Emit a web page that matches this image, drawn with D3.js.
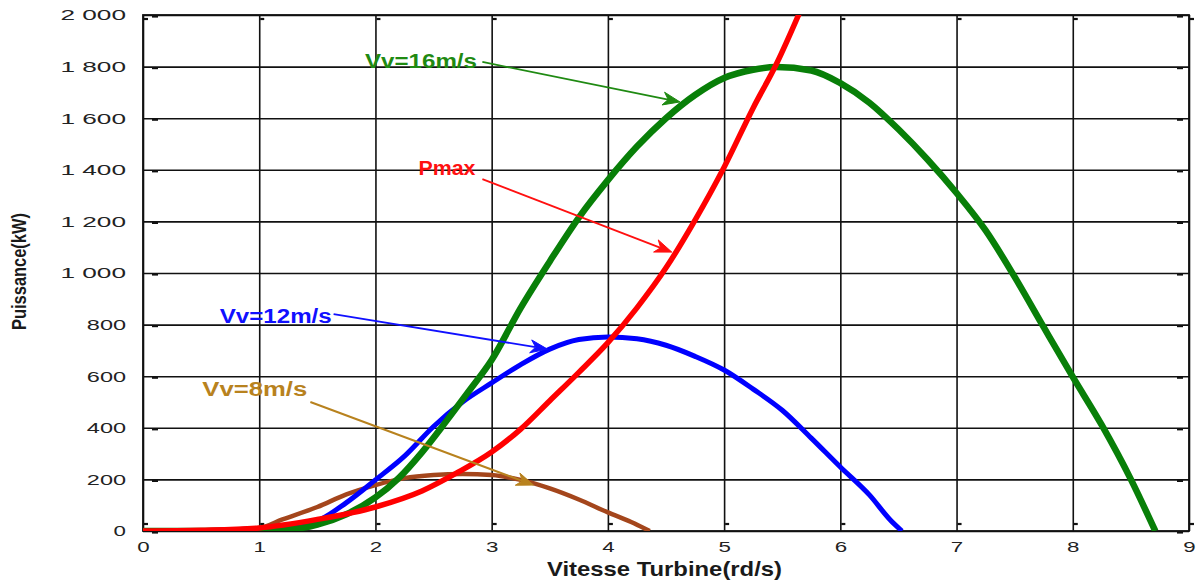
<!DOCTYPE html>
<html>
<head>
<meta charset="utf-8">
<script src="https://cdn.jsdelivr.net/npm/d3@7"></script>
<style>
  html, body { margin: 0; padding: 0; background: #fff; }
  svg { display: block; }
</style>
</head>
<body>
<svg id="chart" width="1203" height="581"></svg>
<script>
// Turbine rotational speed (rd/s) and power (kW) for each wind speed
const v16Speed = [0, 0.5, 1, 1.3, 1.5, 1.75, 2, 2.2, 2.4, 2.6, 2.8, 3, 3.25, 3.5, 3.75, 4, 4.25, 4.5, 4.75, 5, 5.25, 5.45, 5.75, 6, 6.25, 6.5, 6.75, 7, 7.25, 7.5, 7.75, 8, 8.25, 8.5, 8.71];
const v16Power = [0, 0, 2, 8, 25, 65, 130, 205, 305, 420, 540, 663, 865, 1045, 1215, 1360, 1490, 1600, 1690, 1756, 1788, 1798, 1785, 1736, 1660, 1557, 1440, 1310, 1165, 985, 790, 597, 410, 200, 0];

const v12Speed = [0, 0.5, 1, 1.25, 1.5, 1.75, 2, 2.25, 2.5, 2.75, 3, 3.25, 3.5, 3.75, 4, 4.25, 4.5, 4.75, 5, 5.25, 5.5, 5.75, 6, 6.25, 6.43, 6.53];
const v12Power = [0, 2, 10, 20, 40, 110, 198, 290, 405, 500, 574, 645, 705, 742, 752, 745, 720, 677, 624, 550, 468, 360, 248, 140, 43, 0];

const v8Speed = [0, 0.5, 1, 1.2, 1.5, 1.75, 2, 2.25, 2.5, 2.75, 3, 3.25, 3.5, 3.75, 4, 4.2, 4.36];
const v8Power = [0, 2, 12, 45, 93, 142, 178, 205, 217, 221, 217, 198, 165, 122, 72, 35, 0];

const pmaxSpeed = [0, 0.5, 1, 1.5, 2, 2.4, 2.7, 3, 3.25, 3.5, 3.75, 4, 4.25, 4.5, 4.75, 5, 5.25, 5.45, 5.65];
const pmaxPower = [0, 3, 12, 45, 93, 155, 225, 306, 395, 505, 615, 730, 865, 1020, 1205, 1410, 1640, 1810, 2010];

// Axis tick values
const xTickValues = [0, 1, 2, 3, 4, 5, 6, 7, 8, 9];
const yTickValues = [0, 200, 400, 600, 800, 1000, 1200, 1400, 1600, 1800, 2000];

// Curve labels and their arrows (data coordinates)
const labelTexts = ["Vv=16m/s", "Pmax", "Vv=12m/s", "Vv=8m/s"];
const labelAt = [[1.91, 1795], [2.37, 1380], [0.66, 806], [0.51, 523]];
const arrowFrom = [[2.92, 1818], [2.92, 1364], [1.64, 841], [1.44, 500]];
const arrowTo = [[4.62, 1663], [4.55, 1081], [3.48, 705], [3.36, 178]];

const svg = d3.select("#chart");
const m = { left: 143, top: 15, right: 14, bottom: 50 };
const W = 1203, H = 581;
const pw = W - m.left - m.right, ph = H - m.top - m.bottom;

const x = d3.scaleLinear().domain([0, 9]).range([0, pw]);
const y = d3.scaleLinear().domain([0, 2000]).range([ph, 0]);

const g = svg.append("g").attr("transform", `translate(${m.left},${m.top})`);

svg.append("defs").append("clipPath").attr("id", "plotClip")
  .append("rect").attr("x", 0).attr("y", 0).attr("width", pw).attr("height", ph);

const locale = d3.formatLocale({ decimal: ",", thousands: " ", grouping: [3], currency: ["", ""] });
const yFmt = locale.format(",");

const tickFont = "'Liberation Sans', Arial, sans-serif";
const labelWidth = s => s.split("").reduce((w, c) => w + (c === " " ? 13 : 13.4), 0) - 1;

// X axis with vertical grid
const xAxis = g.append("g").attr("transform", `translate(0,${ph})`)
  .call(d3.axisBottom(x).tickValues(xTickValues).tickFormat(d3.format("d")).tickSize(-ph).tickPadding(10));
xAxis.select(".domain").remove();
xAxis.selectAll(".tick line").attr("stroke", "#111").attr("stroke-width", 1.6);
xAxis.selectAll(".tick text")
  .attr("fill", "#222").style("font-family", tickFont).style("font-size", "15px")
  .attr("textLength", d => labelWidth(String(d))).attr("lengthAdjust", "spacingAndGlyphs");

// Y axis with horizontal grid
const yAxis = g.append("g")
  .call(d3.axisLeft(y).tickValues(yTickValues).tickFormat(yFmt).tickSize(-pw).tickPadding(17));
yAxis.select(".domain").remove();
yAxis.selectAll(".tick line").attr("stroke", "#111").attr("stroke-width", 1.6);
yAxis.selectAll(".tick text")
  .attr("fill", "#222").style("font-family", tickFont).style("font-size", "15px")
  .attr("textLength", d => labelWidth(yFmt(d))).attr("lengthAdjust", "spacingAndGlyphs");

// Frame
g.append("rect").attr("width", pw).attr("height", ph)
  .attr("fill", "none").attr("stroke", "#111").attr("stroke-width", 1.8);

// Small inward tick stubs
const stubs = g.append("g").attr("stroke", "#111").attr("stroke-width", 2.2);
yTickValues.forEach(v => {
  stubs.append("line").attr("x1", 9).attr("x2", 15).attr("y1", y(v) + 1.5).attr("y2", y(v) + 1.5);
  stubs.append("line").attr("x1", pw - 12).attr("x2", pw - 6).attr("y1", y(v) + 1.5).attr("y2", y(v) + 1.5);
});
xTickValues.forEach(v => {
  stubs.append("line").attr("x1", x(v) + 1).attr("x2", x(v) + 5).attr("y1", ph - 7).attr("y2", ph - 7);
  stubs.append("line").attr("x1", x(v) + 1).attr("x2", x(v) + 5).attr("y1", 4).attr("y2", 4);
});

// Power curves
const line = d3.line().x(d => x(d[0])).y(d => y(d[1])).curve(d3.curveMonotoneX);
const curves = [
  { sx: v8Speed, py: v8Power, color: "#a4461c", w: 4.5 },
  { sx: v12Speed, py: v12Power, color: "#0000ff", w: 5 },
  { sx: v16Speed, py: v16Power, color: "#087f08", w: 6.5 },
  { sx: pmaxSpeed, py: pmaxPower, color: "#ff0000", w: 5.5 }
];
const curveLayer = g.append("g").attr("clip-path", "url(#plotClip)");
curves.forEach(c => {
  curveLayer.append("path")
    .datum(c.sx.map((s, i) => [s, c.py[i]]))
    .attr("fill", "none").attr("stroke", c.color).attr("stroke-width", c.w)
    .attr("stroke-linejoin", "round").attr("stroke-linecap", "butt")
    .attr("d", line);
});

// Labels with arrows
const labelColors = ["#1f8a12", "#ff1010", "#1010ff", "#b8821e"];
const textWidths = [112, 57, 112, 105];
const arrowWidths = [1.8, 1.8, 1.8, 2];
labelTexts.forEach((t, i) => {
  const col = labelColors[i];
  g.append("text")
    .attr("x", x(labelAt[i][0])).attr("y", y(labelAt[i][1]))
    .attr("fill", col)
    .style("font-family", tickFont).style("font-weight", "bold").style("font-size", "20px")
    .attr("textLength", textWidths[i]).attr("lengthAdjust", "spacingAndGlyphs")
    .text(t);

  const x1 = x(arrowFrom[i][0]), y1 = y(arrowFrom[i][1]);
  const x2 = x(arrowTo[i][0]), y2 = y(arrowTo[i][1]);
  const ang = Math.atan2(y2 - y1, x2 - x1);
  const L = 17, hw = 6.5, notch = 5;
  const ca = Math.cos(ang), sa = Math.sin(ang);
  const pt = (a, b) => [x2 - a * ca - b * (-sa), y2 - a * sa - b * ca];
  const back = pt(L - notch, 0);
  g.append("line")
    .attr("x1", x1).attr("y1", y1).attr("x2", back[0]).attr("y2", back[1])
    .attr("stroke", col).attr("stroke-width", arrowWidths[i]);
  const p1 = pt(L, hw), p2 = pt(L, -hw);
  g.append("path")
    .attr("d", `M${x2},${y2}L${p1[0]},${p1[1]}L${back[0]},${back[1]}L${p2[0]},${p2[1]}Z`)
    .attr("fill", col).attr("stroke", col).attr("stroke-width", 1).attr("stroke-linejoin", "miter");
});

// Axis titles
svg.append("text")
  .attr("x", 547).attr("y", 576)
  .attr("fill", "#1a1a1a")
  .style("font-family", tickFont).style("font-weight", "bold").style("font-size", "21px")
  .attr("textLength", 235).attr("lengthAdjust", "spacingAndGlyphs")
  .text("Vitesse Turbine(rd/s)");

svg.append("text")
  .attr("transform", "translate(26,330) rotate(-90)")
  .attr("fill", "#1a1a1a")
  .style("font-family", tickFont).style("font-weight", "bold").style("font-size", "20px")
  .attr("textLength", 117).attr("lengthAdjust", "spacingAndGlyphs")
  .text("Puissance(kW)");
</script>
</body>
</html>
